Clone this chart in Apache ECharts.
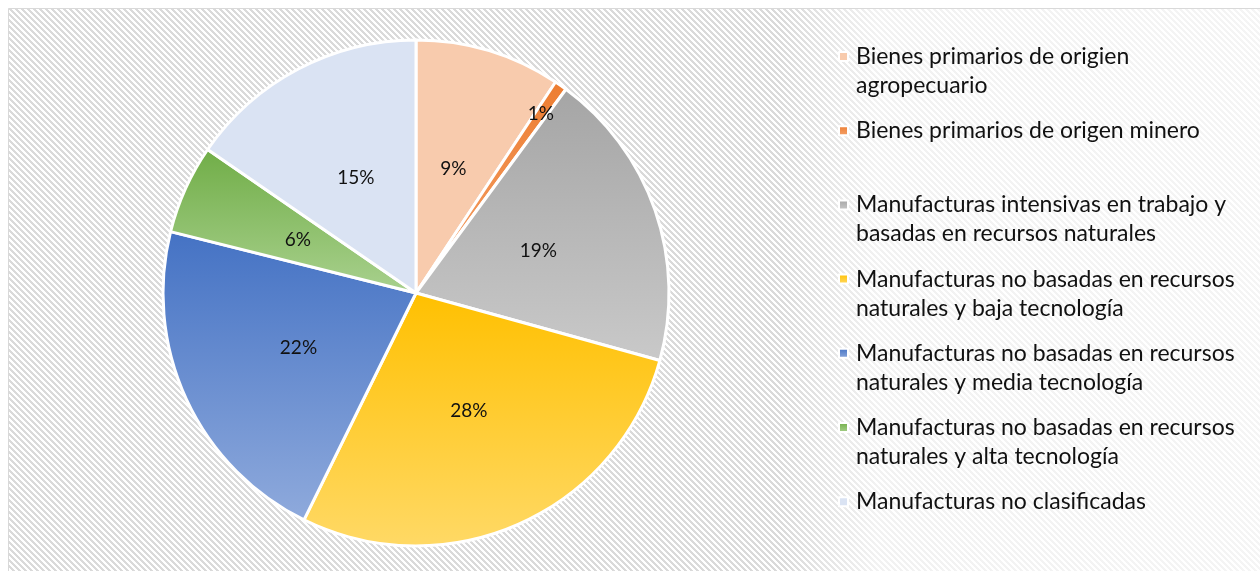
<!DOCTYPE html>
<html>
<head>
<meta charset="utf-8">
<script src="https://cdn.jsdelivr.net/npm/echarts@6/dist/echarts.min.js"></script>
<style>
html,body{margin:0;padding:0;background:#fff;width:1260px;height:571px;overflow:hidden}
#chart{position:absolute;left:0;top:0;width:1260px;height:571px}
</style>
</head>
<body>
<div id="chart"></div>
<script>
// ---- data ----
const categories = [
  'Bienes primarios de origien agropecuario',
  'Bienes primarios de origen minero',
  'Manufacturas intensivas en trabajo y basadas en recursos naturales',
  'Manufacturas no basadas en recursos naturales y baja tecnología',
  'Manufacturas no basadas en recursos naturales y media tecnología',
  'Manufacturas no basadas en recursos naturales y alta tecnología',
  'Manufacturas no clasificadas'
];
const shares = [9.3, 0.8, 19.2, 28.0, 21.6, 5.7, 15.4];
const legendLines = [
  ['Bienes primarios de origien', 'agropecuario'],
  ['Bienes primarios de origen minero', '\u00a0'],
  ['Manufacturas intensivas en trabajo y', 'basadas en recursos naturales'],
  ['Manufacturas no basadas en recursos', 'naturales y baja tecnología'],
  ['Manufacturas no basadas en recursos', 'naturales y media tecnología'],
  ['Manufacturas no basadas en recursos', 'naturales y alta tecnología'],
  ['Manufacturas no clasificadas', '\u00a0']
];

// ---- styles ----
const colorPairs = [
  ['#F8CBAD', '#F8CBAD'],
  ['#ED7D31', '#F4A26B'],
  ['#A5A5A5', '#C9C9C9'],
  ['#FFC000', '#FFD966'],
  ['#4472C4', '#8FAADC'],
  ['#70AD47', '#A9D18E'],
  ['#DAE3F3', '#DAE3F3']
];
function grad(pair) {
  return {type: 'linear', x: 0, y: 0, x2: 0, y2: 1,
    colorStops: [{offset: 0, color: pair[0]}, {offset: 1, color: pair[1]}]};
}

// hatch tile
const P = 6;
const tile = document.createElement('canvas');
tile.width = P; tile.height = P;
const tctx = tile.getContext('2d');
const img = tctx.createImageData(P, P);
for (let y = 0; y < P; y++) for (let x = 0; x < P; x++) {
  const on = (((x - y) % P) + P) % P < 3;
  const c = on ? 218 : 255;
  const k = (y * P + x) * 4;
  img.data[k] = c; img.data[k + 1] = c; img.data[k + 2] = c; img.data[k + 3] = 255;
}
tctx.putImageData(img, 0, 0);

const FONT = 'Lato';
const R = 253;
const CX = 416, CY = 293;
const total = shares.reduce((a, b) => a + b, 0);

// outward offset for the tiny slice label, along its mid angle
function radialShift(i, frac) {
  let before = 0; for (let j = 0; j < i; j++) before += shares[j];
  const mid = (before + shares[i] / 2) / total * 2 * Math.PI;
  const dr = frac * R;
  return {dx: dr * Math.sin(mid), dy: -dr * Math.cos(mid)};
}

const data = categories.map((name, i) => ({
  name, value: shares[i], itemStyle: {color: grad(colorPairs[i])}
}));

const step = 74.2, first = 56.5, LH = 29;
const legends = categories.map((name, i) => ({
  data: [{name}],
  left: 838,
  top: first + i * step - 1.5 * LH,
  orient: 'vertical',
  padding: 0,
  itemWidth: 9,
  itemHeight: 9,
  icon: 'rect',
  selectedMode: false,
  // a blank leading line keeps the icon level with the first visible line
  formatter: () => ['\u00a0'].concat(legendLines[i]).join('\n'),
  textStyle: {fontFamily: FONT, fontSize: 23, lineHeight: LH, color: '#111', padding: [0, 0, 0, 3]}
}));

const chart = echarts.init(document.getElementById('chart'), null, {renderer: 'canvas'});
chart.setOption({
  backgroundColor: '#fff',
  animation: false,
  graphic: [
    {type: 'rect', z: -10, shape: {x: 8.5, y: 8.5, width: 1300, height: 700},
      style: {fill: {image: tile, repeat: 'repeat'}, stroke: '#d9d9d9', lineWidth: 1}, silent: true},
    {type: 'rect', z: -9, shape: {x: 780, y: 9, width: 480, height: 562},
      style: {fill: {type: 'linear', x: 0, y: 0, x2: 1, y2: 0, colorStops: [
        {offset: 0, color: 'rgba(255,255,255,0)'},
        {offset: 0.2, color: 'rgba(255,255,255,0.65)'},
        {offset: 1, color: 'rgba(255,255,255,0.72)'}]}}, silent: true}
  ],
  legend: legends,
  series: [{
    type: 'pie',
    center: [CX, CY],
    radius: R,
    startAngle: 90,
    clockwise: true,
    data,
    itemStyle: {borderColor: '#fff', borderWidth: 3},
    label: {show: true, position: 'inside', formatter: p => Math.round(p.percent) + '%',
      fontFamily: FONT, fontSize: 19, color: '#111'},
    labelLine: {show: false},
    labelLayout: params => params.dataIndex === 1 ? radialShift(1, 0.35) : {},
    emphasis: {disabled: true}
  }]
});
</script>
</body>
</html>
